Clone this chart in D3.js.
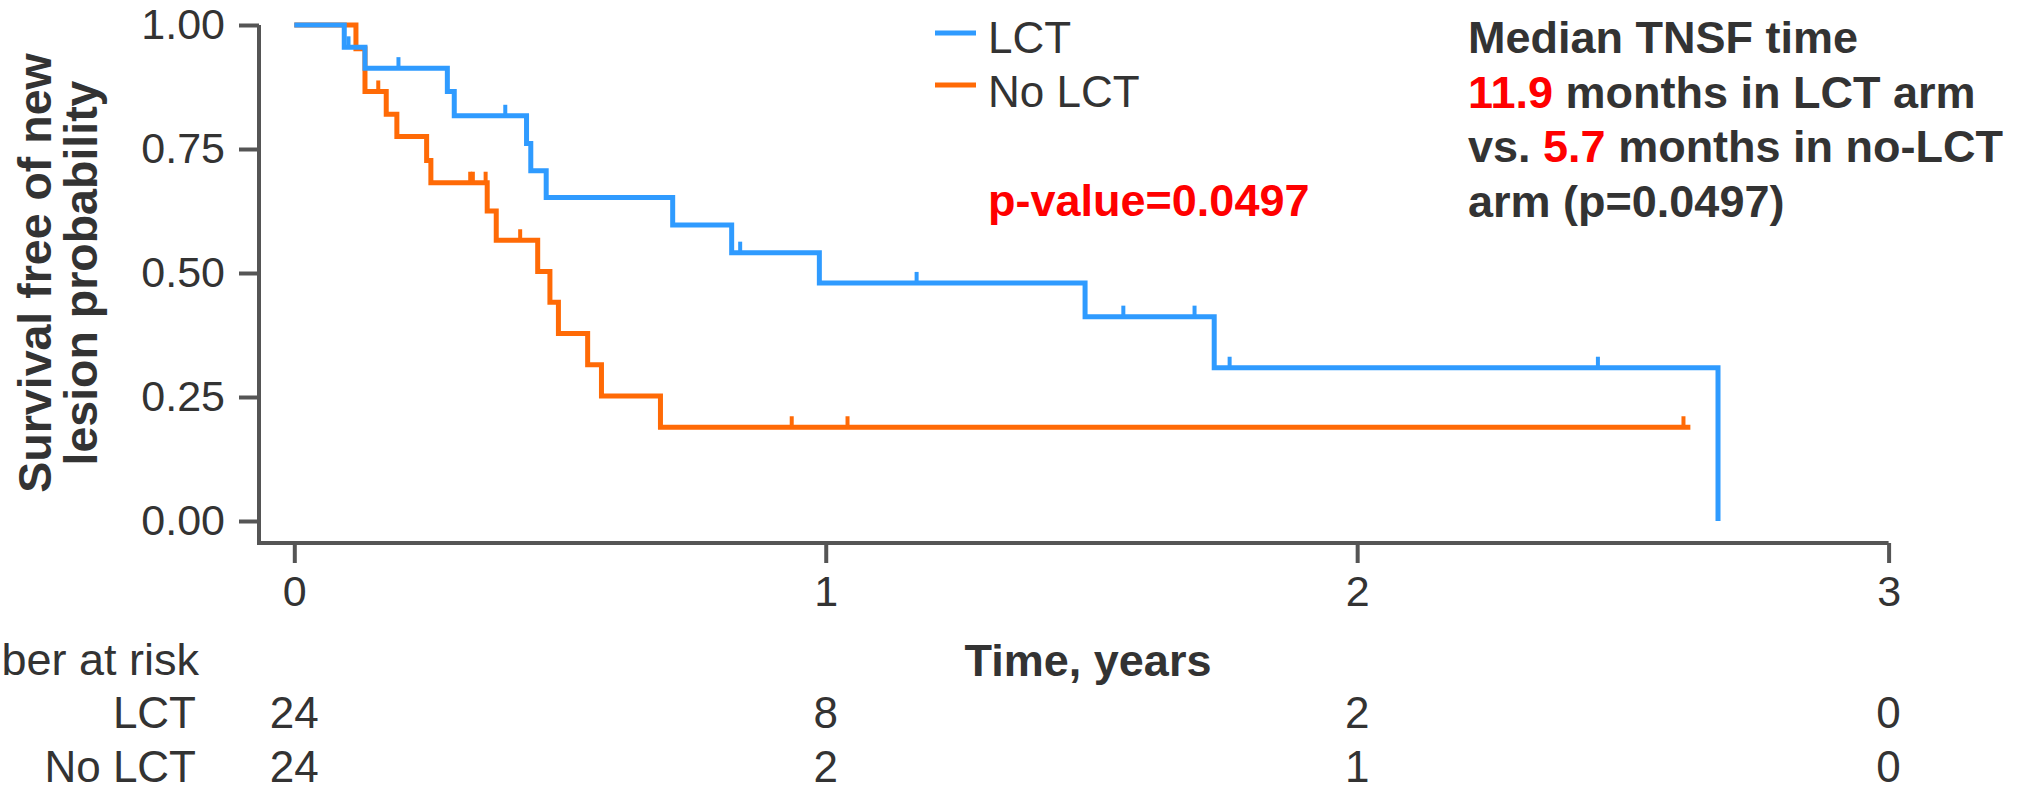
<!DOCTYPE html>
<html>
<head>
<meta charset="utf-8">
<script src="https://cdn.jsdelivr.net/npm/d3@7"></script>
<style>
  body { margin: 0; background: #fff; }
  svg { display: block; font-family: "Liberation Sans", Arial, sans-serif; }
</style>
</head>
<body>
<div id="chart"></div>
<script>
// Kaplan-Meier steps (time in years, survival after the step)
const lctTimes = [0, 0.094, 0.133, 0.288, 0.301, 0.437, 0.445, 0.474, 0.712, 0.823, 0.988, 1.488, 1.731, 2.679];
const lctSurv  = [1, 0.955, 0.913, 0.866, 0.817, 0.761, 0.706, 0.652, 0.597, 0.541, 0.480, 0.412, 0.309, 0];
const lctCensor = [0.102, 0.196, 0.397, 0.839, 1.171, 1.560, 1.694, 1.760, 2.453];

const noLctTimes = [0, 0.116, 0.133, 0.173, 0.193, 0.249, 0.257, 0.363, 0.380, 0.458, 0.481, 0.497, 0.552, 0.578, 0.689, 2.627];
const noLctSurv  = [1, 0.952, 0.866, 0.820, 0.775, 0.727, 0.682, 0.625, 0.566, 0.503, 0.441, 0.378, 0.315, 0.252, 0.189, 0.189];
const noLctCensor = [0.158, 0.331, 0.336, 0.360, 0.425, 0.936, 1.041, 2.614];

const xTicks = [0, 1, 2, 3];
const yTicks = [0, 0.25, 0.5, 0.75, 1];
const groups = ["LCT", "No LCT"];
const riskLCT = [24, 8, 2, 0];
const riskNoLCT = [24, 2, 1, 0];

const pText = "p-value=0.0497";
const noteLines = [
    [["Median TNSF time", false]],
    [["11.9", true], [" months in LCT arm", false]],
    [["vs. ", false], ["5.7", true], [" months in no-LCT", false]],
    [["arm (p=0.0497)", false]]
];

const fullwidth = 2031;
const fullheight = 785;
const blue = "#2f9bff";
const orange = "#ff6a06";
const axisCol = "#555";
const textCol = "#333";

const svg = d3.select("#chart").append("svg")
    .attr("width", fullwidth)
    .attr("height", fullheight);

svg.append("rect").attr("width", fullwidth).attr("height", fullheight).attr("fill", "#fff");

const x = d3.scaleLinear().domain([0, 3]).range([294.3, 1888.6]);
const y = d3.scaleLinear().domain([0, 1]).range([521, 25]);
const axisX = 259;   // y axis line position
const axisY = 543;   // x axis line position

// Axes
const yAxis = svg.append("g")
    .attr("transform", `translate(${axisX},0)`)
    .call(d3.axisLeft(y).tickValues(yTicks).tickFormat(d3.format(".2f")).tickSize(20).tickPadding(14));
const xAxis = svg.append("g")
    .attr("transform", `translate(0,${axisY})`)
    .call(d3.axisBottom(x).tickValues(xTicks).tickFormat(d3.format("d")).tickSize(20).tickPadding(12));

[yAxis, xAxis].forEach(g => {
    g.select(".domain").remove();
    g.selectAll(".tick line").attr("stroke", axisCol).attr("stroke-width", 4);
    g.selectAll(".tick text").attr("fill", textCol).style("font-size", "43px");
});

svg.append("path")
    .attr("fill", "none")
    .attr("stroke", axisCol)
    .attr("stroke-width", 4)
    .attr("stroke-linejoin", "miter")
    .attr("d", `M${axisX},${y(1)}V${axisY}H${x(3)}`);

// Curves
const stepLine = d3.line().curve(d3.curveStepAfter).x(d => x(d[0])).y(d => y(d[1]));

function survAt(times, surv, t) {
    const i = d3.bisectRight(times, t) - 1;
    return surv[Math.max(0, i)];
}

function drawCurve(times, surv, censor, color) {
    svg.append("path")
        .datum(times.map((t, i) => [t, surv[i]]))
        .attr("fill", "none")
        .attr("stroke", color)
        .attr("stroke-width", 5)
        .attr("d", stepLine);
    svg.selectAll(null)
        .data(censor)
        .enter().append("line")
        .attr("x1", d => x(d)).attr("x2", d => x(d))
        .attr("y1", d => y(survAt(times, surv, d)))
        .attr("y2", d => y(survAt(times, surv, d)) - 11)
        .attr("stroke", color)
        .attr("stroke-width", 4);
}

drawCurve(noLctTimes, noLctSurv, noLctCensor, orange);
drawCurve(lctTimes, lctSurv, lctCensor, blue);

// Y axis title
const yTitle = svg.append("text")
    .attr("transform", `translate(0,${(y(0) + y(1)) / 2}) rotate(-90)`)
    .attr("text-anchor", "middle")
    .attr("fill", textCol)
    .style("font-size", "46.5px")
    .style("font-weight", "bold");
yTitle.append("tspan").attr("x", 0).attr("y", 51).text("Survival free of new");
yTitle.append("tspan").attr("x", 0).attr("y", 97).text("lesion probability");

// X axis title
svg.append("text")
    .attr("x", 1088).attr("y", 676)
    .attr("text-anchor", "middle")
    .attr("fill", textCol)
    .style("font-size", "45px")
    .style("font-weight", "bold")
    .text("Time, years");

// Legend
const legend = svg.append("g");
[blue, orange].forEach((c, i) => {
    legend.append("line")
        .attr("x1", 935).attr("x2", 976)
        .attr("y1", 33 + i * 52).attr("y2", 33 + i * 52)
        .attr("stroke", c).attr("stroke-width", 5);
    legend.append("text")
        .attr("x", 988).attr("y", 53 + i * 54)
        .attr("fill", textCol)
        .style("font-size", "44px")
        .text(groups[i]);
});

// p-value
svg.append("text")
    .attr("x", 988).attr("y", 216)
    .attr("fill", "#ff0000")
    .style("font-size", "45px")
    .style("font-weight", "bold")
    .text(pText);

// Median note
const note = svg.append("text")
    .attr("fill", textCol)
    .style("font-size", "45px")
    .style("font-weight", "bold");
noteLines.forEach((parts, i) => {
    const line = note.append("tspan").attr("x", 1468).attr("y", 53 + i * 54.7);
    parts.forEach(([txt, red], j) => {
        const s = j === 0 ? line : note.append("tspan");
        s.text(txt);
        if (red) s.attr("fill", "#ff0000");
    });
});

// Number at risk table
svg.append("text")
    .attr("x", 199).attr("y", 675)
    .attr("text-anchor", "end")
    .attr("fill", textCol)
    .style("font-size", "45px")
    .text("Number at risk");

[riskLCT, riskNoLCT].forEach((row, i) => {
    const yy = 728 + i * 54;
    svg.append("text")
        .attr("x", 196).attr("y", yy)
        .attr("text-anchor", "end")
        .attr("fill", textCol)
        .style("font-size", "44px")
        .text(groups[i]);
    svg.selectAll(null)
        .data(row)
        .enter().append("text")
        .attr("x", (d, k) => x(xTicks[k]))
        .attr("y", yy)
        .attr("text-anchor", "middle")
        .attr("fill", textCol)
        .style("font-size", "44px")
        .text(d => d);
});
</script>
</body>
</html>
